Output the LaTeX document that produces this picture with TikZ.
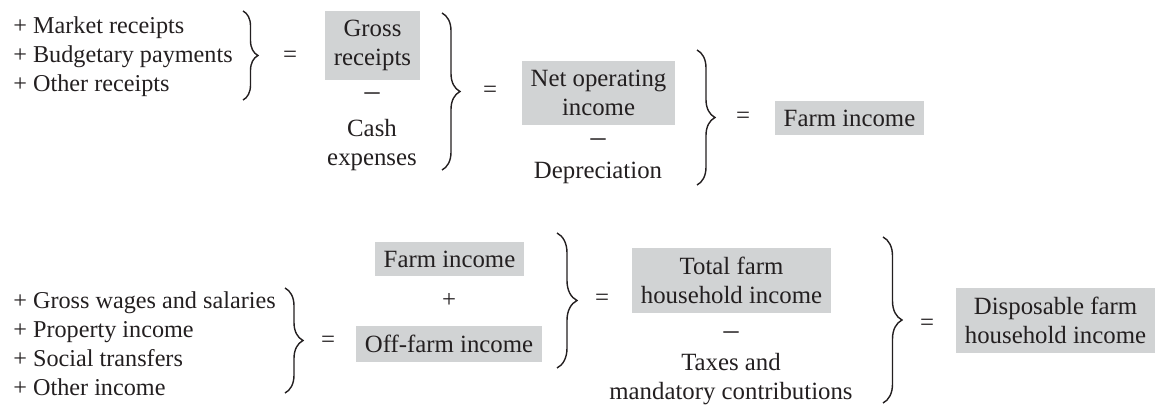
\documentclass[tikz,border=0pt]{standalone}
\usepackage{fontspec}
\setmainfont{Liberation Serif}
\usetikzlibrary{positioning,decorations.pathreplacing}
\definecolor{boxgray}{RGB}{209,211,212}
\definecolor{ink}{RGB}{35,31,32}
\newcommand{\lessdash}{{\fontsize{15}{15}\selectfont --}}
\begin{document}
\begin{tikzpicture} [
        x=0.5pt, y=-0.5pt,
        every node/.style={font=\fontsize{12.4}{14.5}\selectfont, text=ink, align=center},
        shaded/.style={fill=boxgray, inner xsep=4.5pt, inner ysep=4.5pt},
        plain/.style={inner sep=0pt},
        items/.style={inner sep=0pt, align=left, anchor=west, font=\fontsize{12.1}{14.5}\selectfont},
        bracket/.style={draw=ink, line width=0.7pt, decorate, decoration={brace, amplitude=#1}} ]
    \useasboundingbox (0,0) rectangle (1156,407);
    % receipts to farm income
    \node[items] (rcpt) at (13,57) {+ Market receipts\\+ Budgetary payments\\+ Other receipts};
    \draw[bracket=7.5pt] (243,11) -- (243,100);
    \node[plain] (eq1) at (290,57) {=};
    \node[shaded] (gross) at (372.5,45.5) {Gross\\receipts};
    \node[plain] (mn1) at (372,97) {\lessdash};
    \node[plain] (cash) at (372,145) {Cash\\expenses};
    \draw[bracket=9pt] (442,13) -- (442,170);
    \node[plain] (eq2) at (490,92) {=};
    \node[shaded] (netop) at (598.5,93) {Net operating\\income};
    \node[plain] (mn2) at (598,143) {\lessdash};
    \node[plain] (depr) at (598,173) {Depreciation};
    \draw[bracket=9pt] (697,50) -- (697,185);
    \node[plain] (eq3) at (743,118) {=};
    \node[shaded] (farm) at (849.5,118) {Farm income};
    % household income
    \node[items] (other) at (13,343.5) {+ Gross wages and salaries\\+ Property income\\+ Social transfers\\+ Other income};
    \draw[bracket=9pt] (285,288) -- (285,393);
    \node[plain] (eq4) at (328,342) {=};
    \node[shaded] (farm2) at (449.5,259) {Farm income};
    \node[plain] (pl) at (449,300) {+};
    \node[shaded] (off) at (449,344) {Off-farm income};
    \draw[bracket=10pt] (557,233) -- (557,368);
    \node[plain] (eq5) at (602,300) {=};
    \node[shaded] (total) at (731.5,280.5) {Total farm\\household income};
    \node[plain] (mn3) at (731,336) {\lessdash};
    \node[plain] (tax) at (731,379) {Taxes and\\mandatory contributions};
    \draw[bracket=9.5pt] (883,237) -- (883,403);
    \node[plain] (eq6) at (927,325) {=};
    \node[shaded] (disp) at (1055.5,320.5) {Disposable farm\\household income};
\end{tikzpicture}
\end{document}
